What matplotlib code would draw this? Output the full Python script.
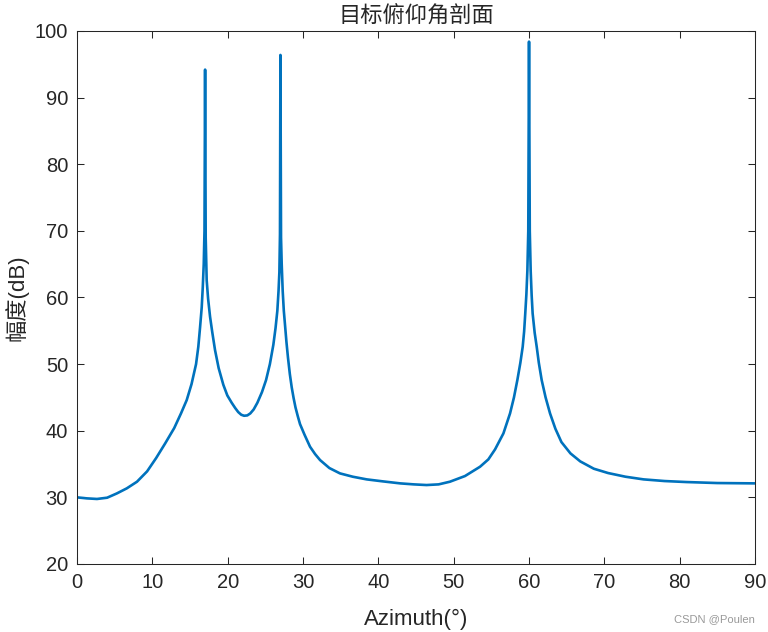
import matplotlib
matplotlib.use("Agg")
import matplotlib.pyplot as plt

plt.rcParams['font.family'] = ['Liberation Sans', 'Noto Sans CJK SC', 'DejaVu Sans']

# azimuth (deg) and spectrum amplitude (dB)
azimuth = [0, 1.3, 2.65, 4.0, 5.3, 6.6, 7.96, 9.3, 10.5, 11.7, 12.9, 13.8,
           14.56, 15.2, 15.8, 16.1, 16.33, 16.55, 16.69, 16.82, 16.92, 17,
           17.08, 17.21, 17.4, 17.66, 17.95, 18.32, 18.8, 19.42, 19.95,
           20.53, 21.0, 21.4, 21.8, 22.17, 22.6, 23.0, 23.45, 23.94, 24.55,
           25.09, 25.6, 26.06, 26.35, 26.59, 26.75, 26.86, 26.94, 27, 27.08,
           27.17, 27.3, 27.45, 27.6, 27.8, 28.0, 28.25, 28.5, 28.75, 29.0,
           29.3, 29.6, 30.2, 30.93, 31.6, 32.26, 33.5, 34.9, 36.6, 38.45,
           40.6, 42.9, 44.7, 46.4, 48.0, 49.5, 51.5, 53.5, 54.6, 55.49, 56.6,
           57.48, 58.0, 58.45, 58.85, 59.16, 59.35, 59.5, 59.65, 59.78, 59.9,
           60, 60.1, 60.22, 60.35, 60.48, 60.75, 61.02, 61.3, 61.68, 62.2,
           62.79, 63.5, 64.3, 65.5, 66.8, 68.6, 70.5, 72.8, 75.2, 78.0, 80.9,
           85.0, 90]
amplitude = [30.0, 29.85, 29.76, 29.95, 30.6, 31.35, 32.35, 33.9, 35.9, 38.1,
             40.4, 42.6, 44.6, 47.0, 50.0, 52.6, 55.5, 58.5, 61.5, 65.0, 70.0,
             94.2, 69.0, 62.6, 59.8, 57.1, 54.8, 52.1, 49.4, 46.9, 45.3, 44.2,
             43.4, 42.8, 42.4, 42.25, 42.3, 42.6, 43.2, 44.2, 45.8, 47.6, 50.0,
             52.9, 55.4, 58.0, 61.0, 63.8, 69.5, 96.4, 69.0, 65.0, 61.0, 58.0,
             56.0, 53.3, 51.0, 48.5, 46.5, 44.9, 43.5, 42.2, 41.0, 39.4, 37.6,
             36.5, 35.6, 34.4, 33.6, 33.1, 32.7, 32.4, 32.1, 31.95, 31.85,
             31.95, 32.35, 33.2, 34.6, 35.7, 37.2, 39.6, 42.6, 45.0, 47.6,
             50.2, 52.6, 54.9, 57.6, 60.5, 64.0, 70.0, 98.4, 70.0, 64.0, 60.3,
             57.6, 54.7, 52.6, 50.2, 47.6, 45.0, 42.6, 40.3, 38.3, 36.6, 35.4,
             34.3, 33.65, 33.1, 32.7, 32.45, 32.3, 32.15, 32.1]

fig = plt.figure(figsize=(7.68, 6.32), dpi=100)
ax = fig.add_axes([0.1003, 0.1076, 0.8828, 0.8434])

ax.plot(azimuth, amplitude, color='#0072BD', linewidth=1.9,
        solid_joinstyle='round')

ax.set_xlim(0, 90)
ax.set_ylim(20, 100)
ax.set_xticks(range(0, 91, 10))
ax.set_yticks(range(20, 101, 10))

ax.tick_params(direction='in', length=5, width=0.75, colors='#262626',
               labelsize=14.5, top=True, right=True, pad=6.5)
for s in ax.spines.values():
    s.set_color('#262626')
    s.set_linewidth(0.75)

ax.set_title('目标俯仰角剖面', fontsize=16, color='#262626', pad=6)
ax.set_xlabel('Azimuth(°)', fontsize=16, color='#262626', labelpad=12)
ax.set_ylabel('幅度(dB)', fontsize=16, color='#262626', labelpad=4.5)

fig.text(0.983, 0.013, 'CSDN @Poulen', ha='right', va='bottom',
         fontsize=8, color='#999999')

fig.savefig('out.png', dpi=100)
